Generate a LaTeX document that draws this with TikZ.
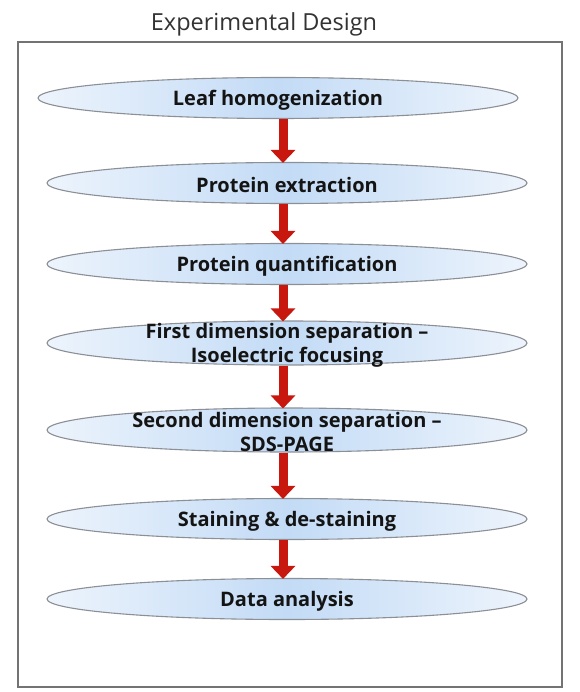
\documentclass[tikz,border=0pt]{standalone}
\usepackage{fontspec}
\setmainfont{Open Sans}
\newfontfamily\titlefont{Open Sans}
\usetikzlibrary{shapes.geometric,arrows.meta}
\definecolor{ovalmid}{HTML}{C3DBF6}
\definecolor{ovaledge}{HTML}{EDF4FC}
\definecolor{ovalline}{HTML}{8C9096}
\definecolor{arrowred}{HTML}{C8170E}
\definecolor{txt}{HTML}{141414}
\tikzset{
  stage/.style={ellipse, draw=ovalline, line width=1.1pt,
    left color=ovaledge, right color=ovaledge, middle color=ovalmid,
    minimum width=480pt, minimum height=41pt, inner sep=0pt,
    align=center, text=txt, font=\fontsize{20}{24}\selectfont\bfseries},
  stagetext/.style={align=center, text=txt, font=\fontsize{20}{24}\selectfont\bfseries, inner sep=0pt},
  flow/.style={draw=arrowred, line width=9pt,
    -{Triangle[width=24pt,length=13pt,fill=arrowred]}, shorten >=-1pt}
}
\begin{document}
\begin{tikzpicture}[x=1pt,y=-1pt]
\useasboundingbox (0,0) rectangle (579,692);
\fill[white] (0,0) rectangle (579,692);
\node[text=black!80, font=\titlefont\fontsize{23.5}{26}\selectfont] (title) at (264,24) {Experimental Design};
\draw[draw=black!55, line width=1.5pt] (18,42) rectangle (562,687);
\node[stage] (s1) at (278,98) {};
\node[stage] (s2) at (287,183) {};
\node[stage] (s3) at (287,264) {};
\node[stage, minimum height=44pt] (s4) at (287,343) {};
\node[stage, minimum height=44pt] (s5) at (287,430) {};
\node[stage] (s6) at (287,519) {};
\node[stage] (s7) at (287,599) {};
\node[stagetext] (t1) at ([yshift=-2pt]s1.center) {Leaf homogenization};
\node[stagetext] (t2) at ([yshift=-2pt]s2.center) {Protein extraction};
\node[stagetext] (t3) at ([yshift=-2pt]s3.center) {Protein quantification};
\node[stagetext] (t4) at ([yshift=-2pt]s4.center) {First dimension separation --\\Isoelectric focusing};
\node[stagetext] (t5) at ([yshift=-2pt]s5.center) {Second dimension separation --\\SDS-PAGE};
\node[stagetext] (t6) at ([yshift=-2pt]s6.center) {Staining \& de-staining};
\node[stagetext] (t7) at ([yshift=-2pt]s7.center) {Data analysis};
\draw[flow] (s1.south -| 283,0) -- (s2.north -| 283,0);
\draw[flow] (s2.south -| 283,0) -- (s3.north -| 283,0);
\draw[flow] (s3.south -| 283,0) -- (s4.north -| 283,0);
\draw[flow] (s4.south -| 283,0) -- (s5.north -| 283,0);
\draw[flow] (s5.south -| 283,0) -- (s6.north -| 283,0);
\draw[flow] (s6.south -| 283,0) -- (s7.north -| 283,0);
\end{tikzpicture}
\end{document}
